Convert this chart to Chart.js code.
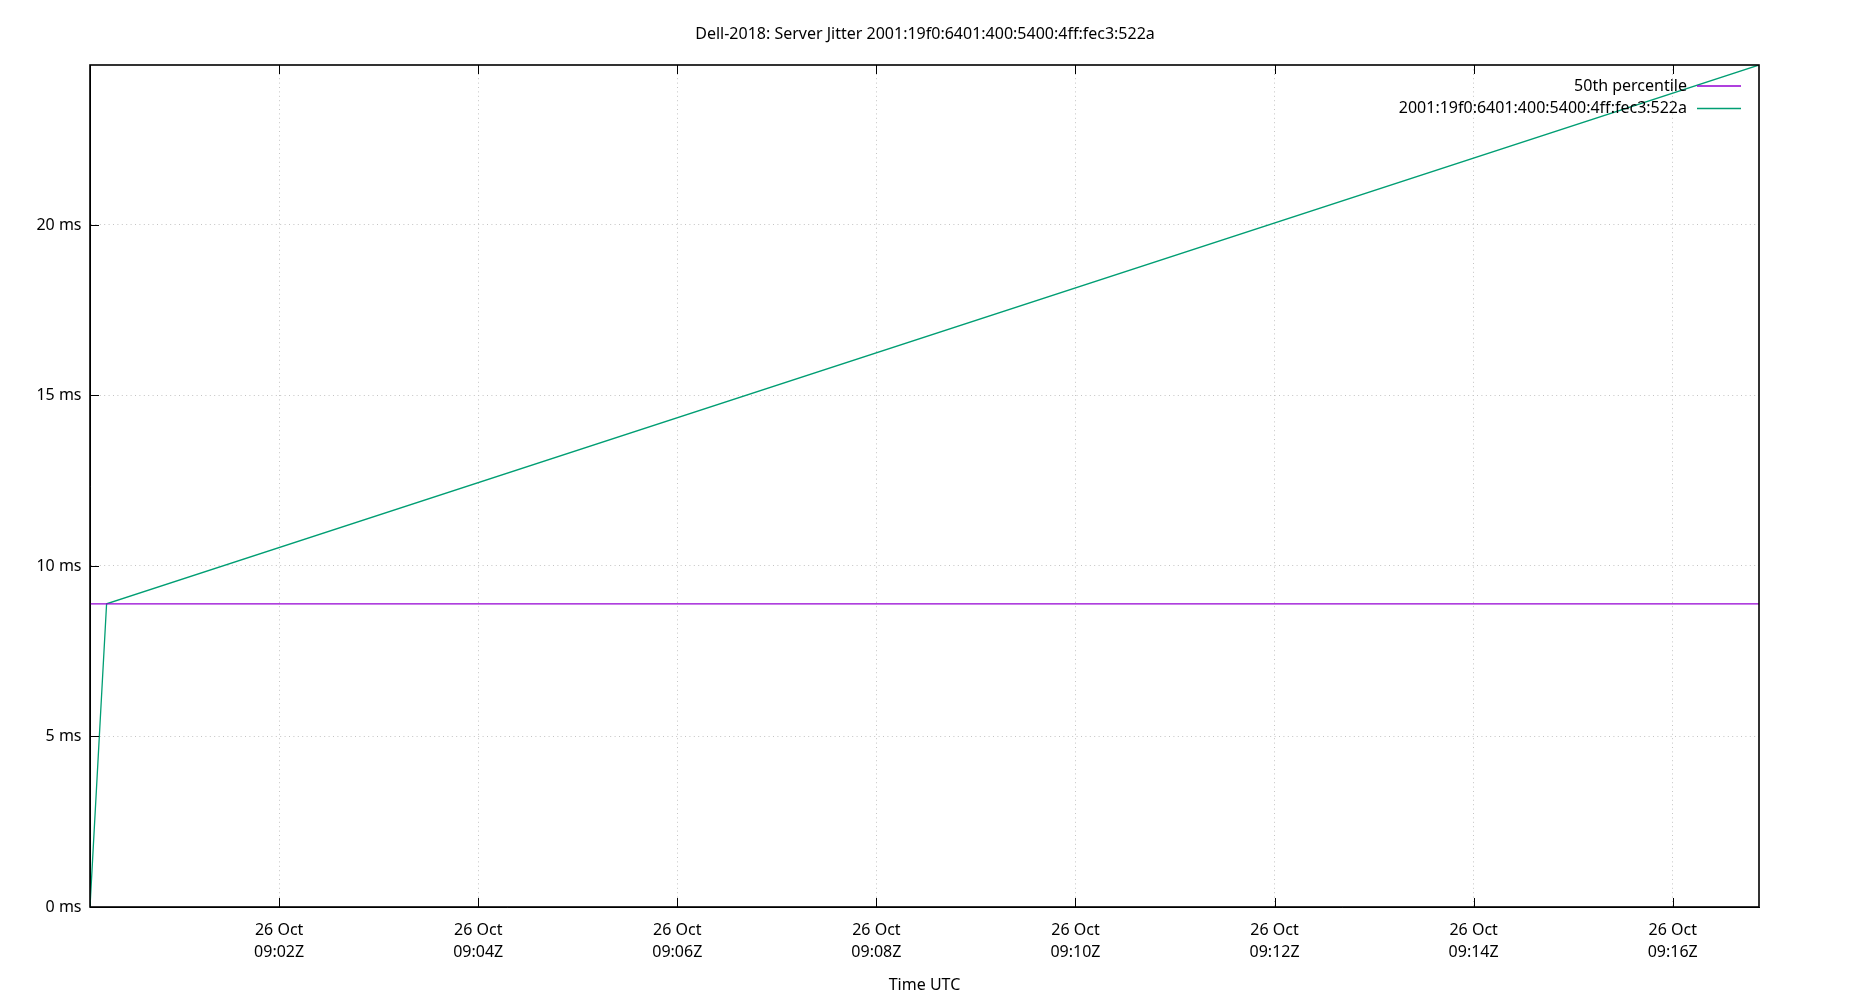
<!DOCTYPE html>
<html>
<head>
<meta charset="utf-8">
<script src="https://cdn.jsdelivr.net/npm/chart.js@4.4.0/dist/chart.umd.min.js"></script>
<style>
  html, body { margin: 0; background: #fff; }
  #wrap { width: 1850px; height: 1000px; }
</style>
</head>
<body>
<div id="wrap"><canvas id="jitter"></canvas></div>
<script>
// values
const chartTitle = 'Dell-2018: Server Jitter 2001:19f0:6401:400:5400:4ff:fec3:522a';
const day = '2018-10-26';
const jitterTimes = ['09:00:06', '09:00:16', '09:16:52'];
const jitterValues = [0, 8.89, 24.69];
const medianValue = 8.89;
const seriesLabels = ['50th percentile', '2001:19f0:6401:400:5400:4ff:fec3:522a'];
const xTickTimes = ['09:02', '09:04', '09:06', '09:08', '09:10', '09:12', '09:14', '09:16'];
const yTickValues = [0, 5, 10, 15, 20];
const months = ['Jan', 'Feb', 'Mar', 'Apr', 'May', 'Jun', 'Jul', 'Aug', 'Sep', 'Oct', 'Nov', 'Dec'];

const toMs = t => Date.parse(`${day}T${t.length === 5 ? t + ':00' : t}Z`);
const xs = jitterTimes.map(toMs);
const xMin = Math.min(...xs);
const xMax = Math.max(...xs);

const FONT = { family: '"Noto Sans", sans-serif', size: 16, lineHeight: 1.375 };
const GRID = { color: '#c4c4c4', lineWidth: 1, drawTicks: false };
const pad2 = n => String(n).padStart(2, '0');

// gnuplot style: inward ticks (bottom, top, left), closed frame, key in the corner
const framePlugin = {
  id: 'frame',
  afterDraw(chart) {
    const { ctx, chartArea: a, scales } = chart;
    ctx.save();
    ctx.strokeStyle = '#000';
    ctx.lineWidth = 1;
    ctx.beginPath();
    scales.x.ticks.forEach(t => {
      const x = Math.round(scales.x.getPixelForValue(t.value)) + 0.5;
      ctx.moveTo(x, a.bottom); ctx.lineTo(x, a.bottom - 9);
      ctx.moveTo(x, a.top); ctx.lineTo(x, a.top + 9);
    });
    scales.y.ticks.forEach(t => {
      const y = Math.round(scales.y.getPixelForValue(t.value)) + 0.5;
      ctx.moveTo(a.left, y); ctx.lineTo(a.left + 9, y);
    });
    ctx.stroke();
    ctx.lineWidth = 1.6;
    ctx.strokeRect(Math.round(a.left), Math.round(a.top),
      Math.round(a.right - a.left), Math.round(a.bottom - a.top));

    ctx.font = `${FONT.size}px ${FONT.family}`;
    ctx.textAlign = 'right';
    ctx.textBaseline = 'middle';
    chart.data.datasets.forEach((ds, i) => {
      const y = a.top + 21 + i * 22.5;
      ctx.fillStyle = '#000';
      ctx.fillText(ds.label, a.right - 72, y);
      ctx.strokeStyle = ds.borderColor;
      ctx.lineWidth = 1.3;
      ctx.beginPath();
      ctx.moveTo(a.right - 62, y); ctx.lineTo(a.right - 18, y);
      ctx.stroke();
    });
    ctx.restore();
  }
};

new Chart(document.getElementById('jitter'), {
  type: 'line',
  data: {
    datasets: [{
      label: seriesLabels[0],
      data: [{ x: xMin, y: medianValue }, { x: xMax, y: medianValue }],
      borderColor: '#9400d3',
      borderWidth: 1.3,
      pointRadius: 0,
      tension: 0
    }, {
      label: seriesLabels[1],
      data: xs.map((x, i) => ({ x, y: jitterValues[i] })),
      borderColor: '#009e73',
      borderWidth: 1.3,
      pointRadius: 0,
      tension: 0
    }]
  },
  options: {
    responsive: true,
    maintainAspectRatio: false,
    animation: false,
    layout: { padding: 0 },
    plugins: {
      legend: { display: false },
      tooltip: { enabled: false },
      title: {
        display: true,
        text: chartTitle,
        color: '#000',
        font: { ...FONT, weight: 'normal', lineHeight: 1.2 },
        padding: { top: 25, bottom: 20.8 }
      }
    },
    scales: {
      x: {
        type: 'linear',
        min: xMin,
        max: xMax,
        afterBuildTicks: s => { s.ticks = xTickTimes.map(t => ({ value: toMs(t) })); },
        afterFit: s => { s.height = 93; },
        ticks: {
          autoSkip: false,
          maxRotation: 0,
          padding: 12,
          color: '#000',
          font: FONT,
          callback: v => {
            const d = new Date(v);
            return [`${d.getUTCDate()} ${months[d.getUTCMonth()]}`,
                    `${pad2(d.getUTCHours())}:${pad2(d.getUTCMinutes())}Z`];
          }
        },
        grid: GRID,
        border: { color: '#000', width: 1, dash: [1, 3.4] },
        title: {
          display: true,
          text: 'Time UTC',
          color: '#000',
          font: { ...FONT, lineHeight: 1.2 },
          padding: { top: 0, bottom: 5.4 }
        }
      },
      y: {
        min: 0,
        max: Math.max(...jitterValues),
        afterBuildTicks: s => { s.ticks = yTickValues.map(v => ({ value: v })); },
        afterFit: s => { s.width = 90; },
        ticks: {
          padding: 8.5,
          color: '#000',
          font: FONT,
          callback: v => `${v} ms`
        },
        grid: GRID,
        border: { color: '#000', width: 1, dash: [1, 3.4] }
      },
      // empty right margin so the title is centred on the whole page
      yRight: {
        position: 'right',
        min: 0,
        max: Math.max(...jitterValues),
        afterFit: s => { s.width = 91; },
        ticks: { display: false },
        grid: { display: false, drawTicks: false },
        border: { display: false }
      }
    }
  },
  plugins: [framePlugin]
});
</script>
</body>
</html>
